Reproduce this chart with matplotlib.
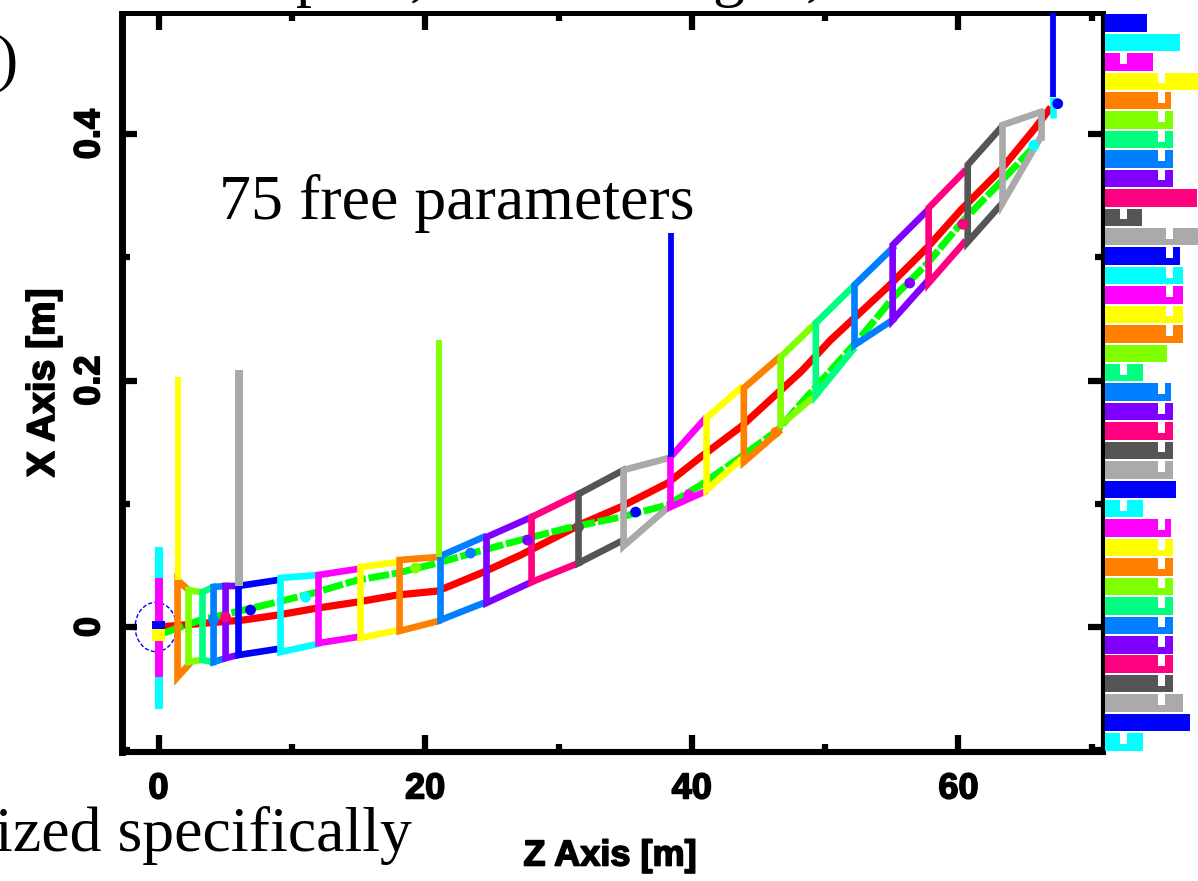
import matplotlib
matplotlib.use('Agg')
import matplotlib.pyplot as plt
import matplotlib.patheffects as pe
from matplotlib.patches import Ellipse

plt.rcParams['font.family'] = ['Liberation Sans', 'DejaVu Sans']

W, H = 1198, 881

blue, cyan, magenta, yellow = '#0000ff', '#00ffff', '#ff00ff', '#ffff00'
orange, lime, spring, azure = '#ff8000', '#80ff00', '#00ff80', '#0080ff'
violet, pink, dgray, lgray = '#8000ff', '#ff0080', '#555555', '#aaaaaa'

# Beam trajectories, z [m] and x [m]
red_z = [0, 6.38, 8.93, 11.93, 14.93, 17.93, 20.93, 24.38, 27.16, 31.88, 34.66, 38.18,
         40.66, 43.66, 46.44, 48.16, 50.41, 54.69, 57.69, 60.17, 63.16, 65.79, 66.77]
red_x = [0, .0057, .0097, .0154, .0203, .0260, .0292, .0446, .0584, .0844, .0974, .1168,
         .1379, .1623, .1899, .2069, .2329, .2759, .3083, .3383, .3708, .4055, .4194]
green_z = [0.38, 3.15, 6.38, 8.93, 11.63, 14.93, 17.93, 20.93, 24.38, 27.16, 30.68, 34.66,
           38.18, 40.66, 43.66, 46.44, 47.94, 52.66, 55.14, 57.69, 60.39, 62.94, 65.64]
green_x = [-.0049, .0057, .0138, .0203, .0276, .0381, .0438, .0519, .0625, .0706, .0803, .0892,
           .0990, .1152, .1379, .1598, .1785, .2353, .2677, .2953, .3302, .3586, .3895]

# Elements along the beam line
elem_z0 = [1.43, 2.25, 3.3, 4.13, 5.03, 6.0, 9.15, 12.0, 15.15, 18.08, 21.15, 24.6, 27.98,
           31.5, 34.88, 38.4, 41.1, 43.9, 46.66, 49.3, 52.2, 55.06, 57.76, 60.69, 63.3]
elem_z1 = [2.25, 3.15, 4.13, 5.03, 6.0, 8.93, 11.93, 14.93, 18.0, 21.0, 24.38, 27.98, 31.5,
           34.88, 38.26, 40.9, 43.66, 46.5, 49.3, 52.06, 55.06, 57.54, 60.39, 63.16, 66.17]
elem_top0 = [.0381, .0300, .0284, .0325, .0333, .0333, .0398, .0422, .0487, .0544, .0576, .0730, .0892,
             .1079, .1274, .1379, .1696, .1939, .2191, .2467, .2775, .3099, .3400, .3749, .4073]
elem_top1 = [.0300, .0284, .0325, .0333, .0333, .0381, .0422, .0471, .0527, .0568, .0730, .0892, .1079,
             .1274, .1371, .1680, .1939, .2183, .2467, .2759, .3075, .3367, .3692, .4049, .4179]
elem_bot0 = [-.0406, -.0284, -.0268, -.0284, -.0252, -.0227, -.0203, -.0130, -.0089, -.0032, .0057, .0195, .0365,
             .0519, .0657, .0974, .1112, .1339, .1639, .1882, .2288, .2491, .2791, .3124, .3440]
elem_bot1 = [-.0308, -.0268, -.0284, -.0252, -.0227, -.0178, -.0138, -.0081, -.0024, .0049, .0195, .0365, .0519,
             .0706, .0974, .1095, .1355, .1582, .1882, .2247, .2491, .2791, .3116, .3424, .3976]
elem_col = [orange, lime, spring, azure, violet, blue, cyan, magenta, yellow, orange, azure, violet, pink,
            dgray, lgray, magenta, yellow, orange, lime, spring, azure, violet, pink, dgray, lgray]

# Vertical markers
mark_z = [1.43, 6.0, 21.0, 38.4, 67.07]
mark_lo = [.0381, .0333, .0568, .1379, .4299]
mark_hi = [.2028, .2084, .2329, .3197, .50]
mark_col = [yellow, lgray, lime, blue, blue]
mark_lw = [4.2, 5.8, 4.2, 4.2, 4.2]

# Dots on the trajectory
dot_z = [6.9, 11.03, 5.03, 4.13, 19.28, 23.4, 27.68, 31.5, 35.78, 39.76, 46.29, 56.34, 60.32, 65.64, 67.44]
dot_x = [.0138, .0243, .0081, .0057, .0479, .06, .0706, .0811, .0933, .1071, .158, .2791, .3268, .3908, .4246]
dot_col = [blue, cyan, pink, azure, lime, azure, violet, dgray, blue, magenta, orange, violet, pink, cyan, blue]

# Legend strip on the right, one bar per row (labels are not readable)
legend_len = [42, 75, 48, 93, 66, 68, 68, 68, 68, 92, 37, 93, 75, 78, 78, 78, 78, 62, 38,
              66, 68, 68, 68, 68, 71, 38, 66, 68, 68, 68, 68, 68, 68, 68, 68, 78, 85, 38]
# Where each row's label has its gap, in the strip's own units (0 = none)
legend_gap = [0, 0, 15, 53, 53, 53, 53, 53, 53, 0, 15, 61, 61, 61, 61, 61, 61, 0, 15,
              53, 53, 53, 53, 53, 0, 15, 53, 53, 53, 53, 53, 53, 53, 53, 53, 53, 0, 15]
legend_cols = [blue, cyan, magenta, yellow, orange, lime, spring, azure, violet, pink, dgray, lgray]

fig = plt.figure(figsize=(W/100, H/100), dpi=100)
ax = fig.add_axes([122.5/W, 1 - 752/H, 980/W, 738.5/H])
ax.set_xlim(-2.7, 70.8)
ax.set_ylim(-0.1014, 0.4978)

ax.plot(red_z, red_x, color='#ff0000', lw=5.2, zorder=2)
ax.plot(green_z, green_x, color='#00ff00', lw=5, ls=(0, (3, 0.4)), zorder=2.5)

for z0, z1, t0, t1, b0, b1, c in zip(elem_z0, elem_z1, elem_top0, elem_top1, elem_bot0, elem_bot1, elem_col):
    ax.plot([z1, z0, z0, z1], [t1, t0, b0, b1], color=c, lw=4.8, solid_joinstyle='miter', zorder=3)
ax.plot([elem_z1[-1], elem_z1[-1]], [elem_top1[-1], elem_bot1[-1]], color=lgray, lw=4.8, zorder=3)

for z, lo, hi, c, lw in zip(mark_z, mark_lo, mark_hi, mark_col, mark_lw):
    ax.plot([z, z], [lo, hi], color=c, lw=lw, solid_capstyle='butt', zorder=3)
ax.plot([67.07, 67.07], [.4131, .4299], color=cyan, lw=4.8, solid_capstyle='butt', zorder=3.5)
ax.plot([0, 0], [-.0632, .0617], color=cyan, lw=5.8, zorder=3)
ax.plot([0, 0], [-.0406, .0398], color=magenta, lw=5.8, solid_capstyle='butt', zorder=3.2)

ax.scatter(dot_z, dot_x, c=dot_col, s=60, marker='o', linewidths=0, zorder=4)
ax.scatter([0, 0], [0, -.0065], c=[blue, yellow], s=75, marker='s', linewidths=0, zorder=4)

ax.add_patch(Ellipse((-0.2, 0), 3.1, 0.04, fill=False, edgecolor=blue, lw=1, ls=(0, (3, 1.5)), zorder=1.5))

# Frame and ticks
ax.spines['left'].set_linewidth(5)
ax.spines['bottom'].set_linewidth(4.4)
ax.spines['top'].set_linewidth(3.6)
ax.spines['right'].set_linewidth(3)
ax.set_xticks([0, 20, 40, 60])
ax.set_xticks([10, 30, 50, 70], minor=True)
ax.set_yticks([0, 0.2, 0.4])
ax.set_yticklabels(['0', '0.2', '0.4'], rotation=90, va='center')
ax.set_yticks([-0.1, 0.1, 0.3], minor=True)
ax.tick_params(which='major', direction='in', top=True, right=True, width=4.5)
ax.tick_params(which='minor', direction='in', top=True, right=True, length=6, width=4.5)
ax.tick_params(axis='x', which='major', length=12, pad=14)
ax.tick_params(axis='y', which='major', length=10.5, pad=11)

heavy = [pe.withStroke(linewidth=1.2, foreground='black')]
for lab in ax.get_xticklabels() + ax.get_yticklabels():
    lab.set_fontsize(26)
    lab.set_fontweight('bold')
    lab.set_path_effects(heavy)

fig.text(610/W, 1 - 856/H, 'Z Axis [m]', fontsize=26, fontweight='bold', ha='center', va='center',
         path_effects=heavy)
fig.text(44/W, 1 - 383/H, 'X Axis [m]', fontsize=28, fontweight='bold', rotation=90, ha='center', va='center',
         path_effects=heavy)

# Legend strip
rows = range(len(legend_len))
lax = fig.add_axes([1105/W, 0, 93/W, 1])
lax.set_xlim(0, 93)
lax.set_ylim((H - 23)/19.43, -23/19.43)
lax.axis('off')
lax.barh(rows, legend_len, height=0.9, color=[legend_cols[i % 12] for i in rows])
for i, g in zip(rows, legend_gap):
    if g:
        # white nick in the upper half of the row
        lax.barh(i - 0.2, 7, left=g, height=0.6, color='white')

# Slide text overlapping the plot
serif = ['Liberation Serif', 'DejaVu Serif']
fig.text(219/W, 1 - 219/H, '75 free parameters', family=serif, fontsize=46, zorder=10)
fig.text(-5/W, 1 - 851/H, 'ized specifically', family=serif, fontsize=46, zorder=10)
fig.text(-3/W, 1 - 78/H, ')', family=serif, fontsize=46, zorder=10)
for x, s in zip([296, 410, 712, 806], ['p', ',', 'g', ',']):
    fig.text(x/W, 1 + 6/H, s, family=serif, fontsize=46, zorder=10)

fig.savefig('out.png', dpi=100)
